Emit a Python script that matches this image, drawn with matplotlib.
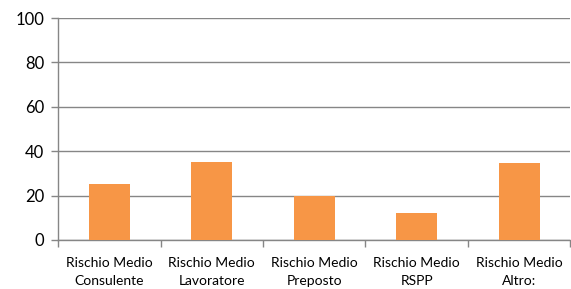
import matplotlib.pyplot as plt
import numpy as np

categories = ["Rischio Medio\nConsulente", "Rischio Medio\nLavoratore", "Rischio Medio\nPreposto",
              "Rischio Medio\nRSPP", "Rischio Medio\nAltro:"]
values = [25, 35, 20, 12, 34.5]
yticks = [0, 20, 40, 60, 80, 100]

plt.rcParams['font.family'] = ['Lato', 'DejaVu Sans']

fig = plt.figure(figsize=(5.71, 2.89), dpi=100)
ax = fig.add_axes([0.1016, 0.1696, 0.8975, 0.7681])

x = np.arange(len(categories))
ax.bar(x, values, width=0.4, color='#F79646', zorder=3)

ax.set_xlim(-0.5, len(categories) - 0.5)
ax.set_ylim(0, 100)
ax.set_yticks(yticks)
ax.yaxis.grid(True, color='#868686', linewidth=1, zorder=0)
ax.set_axisbelow(True)

ax.set_xticks(x)
ax.set_xticklabels(categories, fontsize=10, linespacing=1.6)
ax.set_xticks(np.arange(len(categories) + 1) - 0.5, minor=True)
ax.tick_params(axis='x', which='major', length=0, pad=12)
ax.tick_params(axis='x', which='minor', length=5, color='#868686', width=1)
ax.tick_params(axis='y', length=5, color='#868686', width=1, labelsize=12, pad=5)

for side in ['top', 'right']:
    ax.spines[side].set_visible(False)
for side in ['left', 'bottom']:
    ax.spines[side].set_color('#868686')
    ax.spines[side].set_linewidth(1)

fig.savefig('out.png', dpi=100)
